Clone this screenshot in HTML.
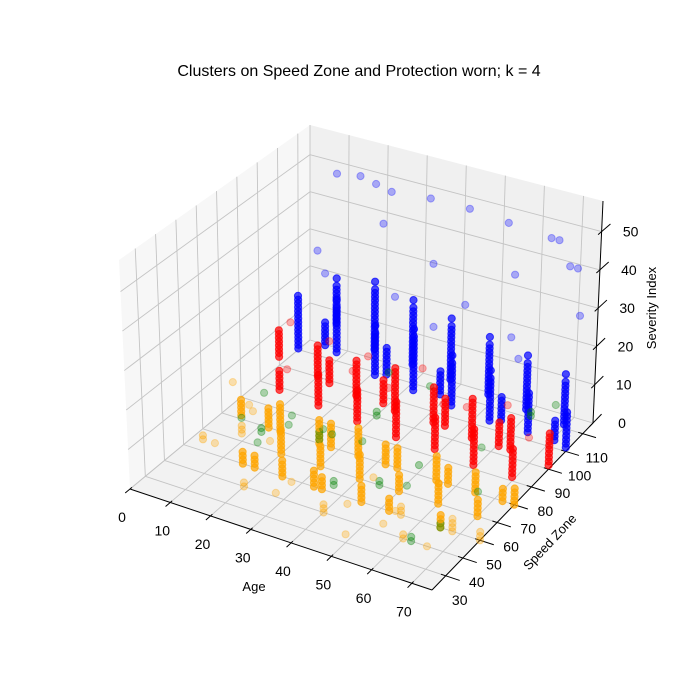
<!DOCTYPE html>
<html><head><meta charset="utf-8"><style>
html,body{margin:0;padding:0;background:#fff;}
svg{display:block;font-family:"Liberation Sans","DejaVu Sans",sans-serif;}
</style></head><body>
<svg id="chart" width="700" height="700" viewBox="0 0 700 700" xmlns="http://www.w3.org/2000/svg">
<rect width="700" height="700" fill="#fff"/>
<text x="359" y="76" font-size="16" text-anchor="middle" fill="#000">Clusters on Speed Zone and Protection worn; k = 4</text>
<g id="panes"></g>
<g id="grid"></g>
<g id="axes"></g>
<g id="points"></g>
<text x="254" y="591" font-size="13" text-anchor="middle">Age</text>
<text x="0" y="0" font-size="13" text-anchor="middle" transform="translate(553,545) rotate(-47)">Speed Zone</text>
<text x="0" y="0" font-size="13" text-anchor="middle" transform="translate(656,308) rotate(-90)">Severity Index</text>
</svg>
<script>
// ---- data ----
const ageTicks = [0,10,20,30,40,50,60,70];
const speedTicks = [30,40,50,60,70,80,90,100,110];
const sevTicks = [0,10,20,30,40,50];
const clusterColors = ["#0000ff","#ff0000","#ffa500","#008000"];
const colAge = [
 5,15,25,35,45,55,65,75, 10,20,30,40,50,60,70, 12,28,42,58,72,
 5,15,25,35,45,55,65,75, 10,20,30,40,50,60,70, 18,32,48,62,
 5,15,25,35,45,55,65,75, 10,20,30,40,50,60,70, 5,15,25,35,45,55,65,75, 20,40,60,
 12,28,42,58,72, 18,33,52,68,
 25,45,65,35,55,15,70,38,62
];
const colSpeed = [
 100,100,100,100,100,100,100,100, 110,110,110,110,110,110,110, 100,100,100,100,100,
 90,90,90,90,90,90,90,90, 80,80,80,80,80,80,80, 90,90,90,90,
 70,70,70,70,70,70,70,70, 60,60,60,60,60,60,60, 50,50,50,50,50,50,50,50, 40,40,40,
 70,70,70,70,70, 50,50,50,50,
 70,60,50,80,60,60,90,50,40
];
const colCluster = [
 0,0,0,0,0,0,0,0, 0,0,0,0,0,0,0, 0,0,0,0,0,
 1,1,1,1,1,1,1,1, 1,1,1,1,1,1,1, 1,1,1,1,
 2,2,2,2,2,2,2,2, 2,2,2,2,2,2,2, 2,2,2,2,2,2,2,2, 2,2,2,
 2,2,2,2,2, 2,2,2,2,
 3,3,3,3,3,3,3,3,3
];
const colSev = [
 [6,7,8,9,10,11,12,13,14,15,16,17,18,19,20],[8,9,10,11,12,13,14,15,16,17,18,19,20,22],[5,6,7,8,9,10,11,12,13,14,15,16,18],[4,5,6,7,8,9,10,11,12,13,14,15,16,17,18,20],[3,4,5,6,7,8,9,10,11,12,13,14,16],[2,3,4,5,6,7,8,9,10,11,12,13,15],[2,3,4,5,6,7,8,9,10,11,12],[1,2,3,4,5,6,7,8,9,10],
 [10,11,12,13,14,15,16,17,18,19,20,22],[6,7,8,9,10,11,12,13,14,15,16,17,18,19,20,21,22,24],[5,6,7,8,9,10,11,12,13,14,15,16,17,18,19,20,22],[4,5,6,7,8,9,10,11,12,13,14,15,16,17,18,20],[3,4,5,6,7,8,9,10,11,12,13,14,15,16,18],[2,3,4,5,6,7,8,9,10,11,12,13,14,16],[1,2,3,4,5,6,7,8,9,10,11,12,14],
 [9,10,11,12,13,14,15],[6,7,8,9,10,11,12,13],[5,6,7,8,9,10,11],[3,4,5,6,7,8,9],[2,3,4,5,6,7],
 [8,9,10,11,12,13,14,15],[6,7,8,9,10,11,12,13,14],[4,5,6,7,8,9,10,11,12,13],[3,4,5,6,7,8,9,10,11,12,13,14],[3,4,5,6,7,8,9,10,11,12],[2,3,4,5,6,7,8,9,10,11,12],[2,3,4,5,6,7,8,9,10],[1,2,3,4,5,6,7,8,9],
 [5,6,7,8,9,10],[4,5,6,7,8,9,10,11,12],[3,4,5,6,7,8,9,10,11],[2,3,4,5,6,7,8,9,10,11],[2,3,4,5,6,7,8,9,10],[1,2,3,4,5,6,7,8,9,10],[1,2,3,4,5,6,7,8],
 [5,6,7,8,9,10,11],[4,5,6,7,8,9,10],[3,4,5,6,7,8,9,10],[2,3,4,5,6,7,8],
 [1,2,3,4,5],[0,1,2,3,4,5,6,7],[0,1,2,3,4,5,6],[0,1,2,3,4,5,6,7],[0,1,2,3,4,5],[0,1,2,3,4,5,6],[0,1,2,3,4,5],[0,1,2,3,4],
 [2,3,4],[0,1,2,3,4,5,6],[0,1,2,3,4,5],[0,1,2,3,4,5,6],[0,1,2,3,4],[0,1,2,3,4,5],[0,1,2,3,4],
 [3,4],[0,1,2,3],[0,1,2,3,4],[0,1,2,3],[0,1,2,3,4],[0,1,2],[0,1,2,3],[0,1,2],
 [0,1],[0,1,2],[0,1],
 [0,1,2,3,4,5],[0,1,2,3,4,5,6],[0,1,2,3,4,5],[0,1,2,3,4],[0,1,2,3],
 [0,1,2,3],[0,1,2,3,4],[0,1,2,3],[0,1,2],
 [1,2,3],[0,1],[0,1],[6,7],[8],[4,5],[12,13],[2,3],[0,1]
];
// single scattered points
const ptAge = [10,16,20,24,34,44,54,65,67, 22,70,72,73,48,30,60,5,12,35,56,40,62,
 8,18,28,38,52,64,74,12,42,58, 3,12,22,32,46,58,68,8,28,50,66,
 6,18,26,33,44,52,62,72,14,38, 10,22,36,48,60,8,30,55,70,24];
const ptSpeed = [110,110,110,110,110,110,110,110,110, 110,110,110,110,100,100,100,110,100,110,110,100,100,
 90,90,90,80,80,90,80,80,90,80, 70,60,50,40,40,40,50,50,40,30,40,
 80,70,70,60,90,60,80,100,60,80, 60,60,70,50,60,70,80,40,60,90];
const ptSev = [50,51,50,49,50,50,49,48,48, 40,42,42,30,30,27,25,28,28,33,36,22,20,
 18,16,15,14,14,13,12,11,16,15, 9,10,8,5,4,6,3,3,1,2,0,
 3,5,4,9,12,2,6,11,1,18, 6,8,4,7,5,3,9,2,6,10];
const ptCluster = [0,0,0,0,0,0,0,0,0, 0,0,0,0,0,0,0,0,0,0,0,0,0,
 1,1,1,1,1,1,1,1,1,1, 2,2,2,2,2,2,2,2,2,2,2,
 3,3,3,3,3,3,3,3,3,3, 3,3,3,2,2,2,1,2,3,1];

// ---- projection ----
const X0=0,X1=75,Y0=22,Y1=116,Z0=0,Z1=58;
const B00=[130,489],B10=[432,590],B11=[593,423],B01=[310,340];
const T00=[119,260],T10=[436,340],T11=[603,201],T01=[310,125];
function bil(a,b,c,d,u,v){return [a[0]*(1-u)*(1-v)+b[0]*u*(1-v)+c[0]*u*v+d[0]*(1-u)*v, a[1]*(1-u)*(1-v)+b[1]*u*(1-v)+c[1]*u*v+d[1]*(1-u)*v];}
function P(x,y,z){const u=(x-X0)/(X1-X0),v=(y-Y0)/(Y1-Y0),w=(z-Z0)/(Z1-Z0);
 const b=bil(B00,B10,B11,B01,u,v),t=bil(T00,T10,T11,T01,u,v);
 return [b[0]+(t[0]-b[0])*w,b[1]+(t[1]-b[1])*w];}
const NS="http://www.w3.org/2000/svg";
function mk(tag,attrs,parent){const e=document.createElementNS(NS,tag);for(const k in attrs)e.setAttribute(k,attrs[k]);parent.appendChild(e);return e;}
function poly(pts){return pts.map(p=>p[0].toFixed(1)+","+p[1].toFixed(1)).join(" ");}
const gP=document.getElementById("panes"),gG=document.getElementById("grid"),gA=document.getElementById("axes"),gPt=document.getElementById("points");

let e;
e=mk("polygon",{points:poly([P(X0,Y0,Z0),P(X0,Y1,Z0),P(X0,Y1,Z1),P(X0,Y0,Z1)]),fill:"#f7f7f7"},gP);


e=mk("polygon",{points:poly([P(X0,Y1,Z0),P(X1,Y1,Z0),P(X1,Y1,Z1),P(X0,Y1,Z1)]),fill:"#f0f0f0"},gP);


e=mk("polygon",{points:poly([P(X0,Y0,Z0),P(X1,Y0,Z0),P(X1,Y1,Z0),P(X0,Y1,Z0)]),fill:"#f2f2f2"},gP);



function gl(a,b){const l=mk("line",{x1:a[0],y1:a[1],x2:b[0],y2:b[1],stroke:"#c4c4c4","stroke-width":0.9},gG);
 
 }
ageTicks.forEach(t=>{gl(P(t,Y0,0),P(t,Y1,0));gl(P(t,Y1,0),P(t,Y1,Z1));});
speedTicks.forEach(s=>{gl(P(X0,s,0),P(X1,s,0));gl(P(X0,s,0),P(X0,s,Z1));});
sevTicks.forEach(z=>{gl(P(X0,Y0,z),P(X0,Y1,z));gl(P(X0,Y1,z),P(X1,Y1,z));});

function al(a,b,name){const l=mk("line",{x1:a[0],y1:a[1],x2:b[0],y2:b[1],stroke:"#000","stroke-width":1},gA);
 
 }
al(P(X0,Y0,0),P(X1,Y0,0),'x-axis-line');
al(P(X1,Y0,0),P(X1,Y1,0),'y-axis-line');
al(P(X1,Y1,0),P(X1,Y1,Z1),'z-axis-line');
function lbl(x,y,txt,name){const t=mk("text",{x:x,y:y,"font-size":14,"text-anchor":"middle","dominant-baseline":"central",fill:"#000"},gA);
 t.textContent=txt;
 
 }
ageTicks.forEach(t=>{const p=P(t,Y0,0),q=P(t,Y0-2.5,0),r=P(t,Y0+1,0);al(r,q,'x-tick');lbl(p[0]-8,p[1]+28,String(t),'x-tick-label');});
speedTicks.forEach(s=>{const p=P(X1,s,0),q=P(X1+3.5,s,0),r=P(X1-1.2,s,0);al(r,q,'y-tick');lbl(p[0]+14,p[1]+24,String(s),'y-tick-label');});
sevTicks.forEach(z=>{const p=P(X1,Y1,z),q=P(X1,Y1+5,z),r=P(X1,Y1-2,z);al(r,q,'z-tick');lbl(p[0]+29,p[1],String(z),'z-tick-label');});

const pts=[];
for(let i=0;i<colAge.length;i++){const s=colSev[i];const a=s.length>=4?0.7:0.35;
 s.forEach(z=>pts.push({x:colAge[i],y:colSpeed[i],z:z,c:colCluster[i],a:a}));}
for(let i=0;i<ptAge.length;i++)pts.push({x:ptAge[i],y:ptSpeed[i],z:ptSev[i],c:ptCluster[i],a:0.3});
pts.forEach(p=>{p.d=0.5*(p.x-X0)/(X1-X0)-0.866*(p.y-Y0)/(Y1-Y0)+0.4*(p.z-Z0)/(Z1-Z0);});
pts.sort((a,b)=>a.d-b.d);
pts.forEach(p=>{const q=P(p.x,p.y,p.z);
 const c=mk("circle",{cx:q[0].toFixed(1),cy:q[1].toFixed(1),r:3.6,fill:clusterColors[p.c],"fill-opacity":p.a,stroke:clusterColors[p.c],"stroke-opacity":p.a,"stroke-width":1},gPt);
 
 });
</script>
</body></html>
